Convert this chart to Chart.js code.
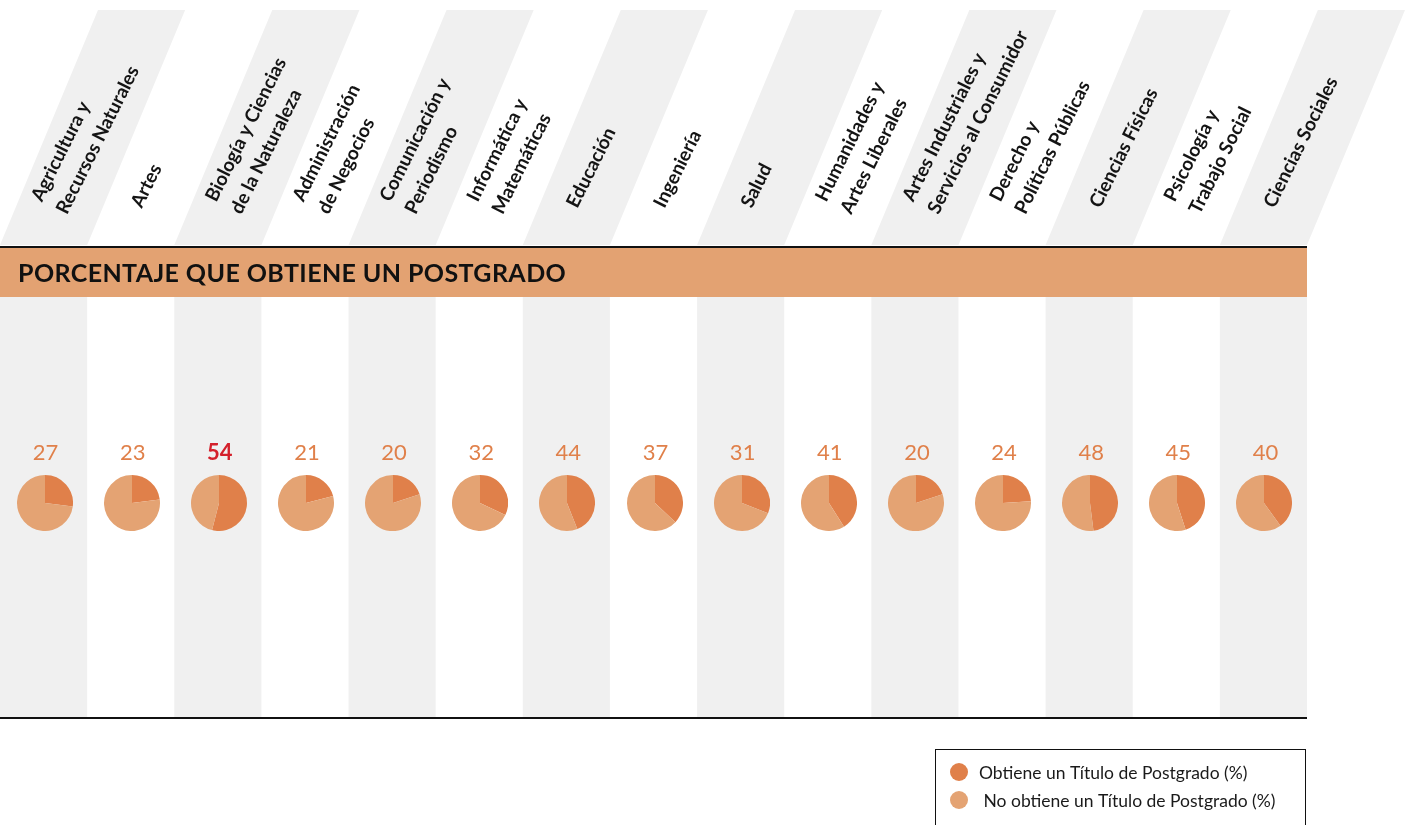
<!DOCTYPE html>
<html lang="es">
<head>
<meta charset="utf-8">
<title>Porcentaje que obtiene un postgrado</title>
<script src="https://cdn.jsdelivr.net/npm/chart.js@4.4.1/dist/chart.umd.min.js"></script>
<style>
  body { margin: 0; background: #fff; }
  #wrap { position: relative; width: 1405px; height: 825px; overflow: hidden; }
  #mainChart { position: absolute; left: 0; top: 0; }
  .pie { position: absolute; }
</style>
</head>
<body>
<div id="wrap">
  <canvas id="mainChart" width="1405" height="825"></canvas>
</div>
<script>
// data
const categories = [
  ["Agricultura y", "Recursos Naturales"],
  ["Artes"],
  ["Biología y Ciencias", "de la Naturaleza"],
  ["Administración", "de Negocios"],
  ["Comunicación y", "Periodismo"],
  ["Informática y", "Matemáticas"],
  ["Educación"],
  ["Ingeniería"],
  ["Salud"],
  ["Humanidades y", "Artes Liberales"],
  ["Artes Industriales y", "Servicios al Consumidor"],
  ["Derecho y", "Políticas Públicas"],
  ["Ciencias Físicas"],
  ["Psicología y", "Trabajo Social"],
  ["Ciencias Sociales"]
];
const obtiene = [27, 23, 54, 21, 20, 32, 44, 37, 31, 41, 20, 24, 48, 45, 40];
const noObtiene = obtiene.map((v) => 100 - v);
const seriesNames = ["Obtiene un Título de Postgrado (%)", " No obtiene un Título de Postgrado (%)"];
const title = "PORCENTAJE QUE OBTIENE UN POSTGRADO";
const highlight = 2; // index shown in red

const DARK = "#E0804A";
const LIGHT = "#E4A373";
const BAND = "#E3A272";
const GRAY = "#F0F0F0";
const FONT = "Lato, 'Open Sans', sans-serif";

// draws the header, column stripes, band, values and legend
const decorPlugin = {
  id: "decor",
  beforeDatasetsDraw(chart) {
    const ctx = chart.ctx;
    const area = chart.chartArea;
    const x = chart.scales.x;
    const w = area.width / categories.length;
    const slant = 98;

    ctx.save();
    // column stripes and slanted header cells
    categories.forEach((lines, i) => {
      if (i % 2 !== 0) return;
      const left = x.getPixelForValue(i) - w / 2;
      ctx.fillStyle = GRAY;
      ctx.fillRect(left, area.top, w, area.bottom - area.top - 1);
      ctx.beginPath();
      ctx.moveTo(left, 245);
      ctx.lineTo(left + w, 245);
      ctx.lineTo(left + w + slant, 10);
      ctx.lineTo(left + slant, 10);
      ctx.closePath();
      ctx.fill();
    });

    // rotated category labels
    ctx.fillStyle = "#141414";
    ctx.font = "bold 19px " + FONT;
    ctx.textAlign = "left";
    ctx.textBaseline = "alphabetic";
    categories.forEach((lines, i) => {
      const cx = x.getPixelForValue(i);
      ctx.save();
      ctx.translate(cx + 11, 209);
      ctx.rotate(-63.5 * Math.PI / 180);
      lines.forEach((line, k) => {
        ctx.fillText(line, 0, (k - (lines.length - 1) / 2) * 28);
      });
      ctx.restore();
    });

    // top rule and title band
    ctx.fillStyle = "#111";
    ctx.fillRect(area.left, 246, area.width, 2);
    ctx.fillStyle = BAND;
    ctx.fillRect(area.left, 248, area.width, area.top - 248);
    ctx.fillStyle = "#111";
    ctx.font = "bold 25px " + FONT;
    ctx.letterSpacing = "0.4px";
    ctx.textBaseline = "middle";
    ctx.fillText(title, 18, 274);
    ctx.letterSpacing = "0px";

    // bottom rule
    ctx.fillStyle = "#111";
    ctx.fillRect(area.left, area.bottom - 1, area.width, 2);

    // value labels
    ctx.textAlign = "center";
    ctx.textBaseline = "alphabetic";
    obtiene.forEach((v, i) => {
      const cx = x.getPixelForValue(i) + 2;
      if (i === highlight) {
        ctx.fillStyle = "#D4202B";
        ctx.font = "bold 22px " + FONT;
      } else {
        ctx.fillStyle = DARK;
        ctx.font = "22px " + FONT;
      }
      ctx.fillText(String(v), cx, 460);
    });

    // legend box
    ctx.strokeStyle = "#111";
    ctx.lineWidth = 1;
    ctx.strokeRect(935.5, 749.5, 370, 100);
    ctx.font = "17.5px " + FONT;
    ctx.textAlign = "left";
    ctx.textBaseline = "middle";
    [DARK, LIGHT].forEach((c, k) => {
      const y = 772 + k * 28;
      ctx.fillStyle = c;
      ctx.beginPath();
      ctx.arc(959, y, 9, 0, Math.PI * 2);
      ctx.fill();
      ctx.fillStyle = "#1a1a1a";
      ctx.fillText(seriesNames[k], 979, y + 1);
    });
    ctx.restore();
  }
};

// main chart: gives the category scale the pies sit on
const mainChart = new Chart(document.getElementById("mainChart"), {
  type: "bar",
  data: {
    labels: categories,
    datasets: [{ data: obtiene, backgroundColor: "rgba(0,0,0,0)" }]
  },
  options: {
    responsive: false,
    animation: false,
    layout: { padding: { left: 0, right: 98, top: 297, bottom: 107 } },
    plugins: { legend: { display: false }, tooltip: { enabled: false } },
    scales: {
      x: { display: false },
      y: { display: false, min: 0, max: 100 }
    }
  },
  plugins: [decorPlugin]
});

// one small pie per category, placed on the main x scale
const wrap = document.getElementById("wrap");
const size = 56;
obtiene.forEach((v, i) => {
  const cx = mainChart.scales.x.getPixelForValue(i) + 1;
  const canvas = document.createElement("canvas");
  canvas.className = "pie";
  canvas.width = size;
  canvas.height = size;
  canvas.style.left = (cx - size / 2) + "px";
  canvas.style.top = (503 - size / 2) + "px";
  wrap.appendChild(canvas);
  new Chart(canvas, {
    type: "pie",
    data: {
      labels: seriesNames,
      datasets: [{
        data: [v, noObtiene[i]],
        backgroundColor: [DARK, LIGHT],
        borderWidth: 0
      }]
    },
    options: {
      responsive: false,
      animation: false,
      plugins: { legend: { display: false }, tooltip: { enabled: false } }
    }
  });
});
</script>
</body>
</html>
